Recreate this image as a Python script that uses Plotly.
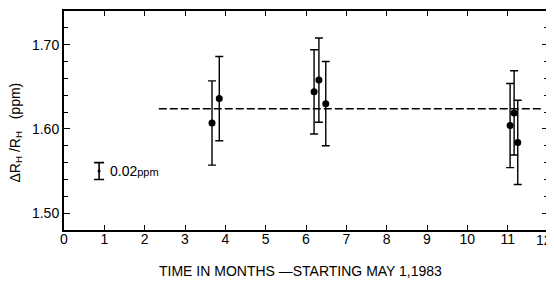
import plotly.graph_objects as go

# Data
months = [3.67, 3.85, 6.20, 6.32, 6.49, 11.06, 11.16, 11.25]
ratio = [1.607, 1.636, 1.644, 1.658, 1.630, 1.604, 1.619, 1.584]
uncert = [0.050, 0.050, 0.050, 0.050, 0.050, 0.050, 0.050, 0.050]

mean_value = 1.624
mean_span = [2.35, 11.85]

scale_x = [0.87]
scale_y = [1.550]
scale_half = [0.010]

x_ticks = list(range(0, 13))
x_tick_text = [str(v) for v in x_ticks[:-1]] + [""]
y_major = [1.50, 1.60, 1.70]
y_major_text = ["1.50", "1.60", "1.70"]

FONT = "Liberation Sans, Arial, sans-serif"

fig = go.Figure()

fig.add_trace(go.Scatter(
    x=mean_span, y=[mean_value, mean_value], mode="lines",
    line=dict(color="black", width=1.6, dash="8px,3px"),
    showlegend=False, hoverinfo="skip"))

fig.add_trace(go.Scatter(
    x=months, y=ratio, mode="markers",
    marker=dict(color="black", size=7),
    error_y=dict(type="data", array=uncert, visible=True,
                 color="black", thickness=1.4, width=4),
    showlegend=False))

fig.add_trace(go.Scatter(
    x=scale_x, y=scale_y, mode="markers",
    marker=dict(color="black", size=3),
    error_y=dict(type="data", array=scale_half, visible=True,
                 color="black", thickness=1.6, width=5),
    showlegend=False))

fig.add_annotation(
    x=1.08, y=1.550, xref="x", yref="y", xanchor="left", yanchor="middle",
    text="0.02<span style='font-size:11px'>ppm</span>", showarrow=False,
    font=dict(family=FONT, size=14, color="black"))

fig.add_annotation(
    x=0, y=0.5, xref="paper", yref="paper", xanchor="center", yanchor="middle",
    xshift=-49, yshift=-12,
    text="ΔR<sub>H</sub> /R<sub>H</sub>   (ppm)", textangle=-90,
    showarrow=False, font=dict(family=FONT, size=14, color="black"))

fig.add_annotation(
    x=0.5, y=0, xref="paper", yref="paper", xanchor="center", yanchor="middle",
    xshift=-6, yshift=-41, text="TIME IN MONTHS —STARTING MAY 1,1983",
    showarrow=False, font=dict(family=FONT, size=14, color="black"))

# last month label sits at the right edge of the page
fig.add_annotation(
    x=x_ticks[-1], y=0, xref="x", yref="paper", xanchor="right", yanchor="middle",
    xshift=6, yshift=-10, text=str(x_ticks[-1]), showarrow=False,
    font=dict(family=FONT, size=14, color="black"))

# the page body has an 8px default margin, so the figure is sized to fit
fig.update_layout(
    width=546, height=273,
    margin=dict(l=56, r=6, t=1, b=51),
    paper_bgcolor="white", plot_bgcolor="white",
    font=dict(family=FONT, size=14, color="black"),
    xaxis=dict(range=[0, 12], tickvals=x_ticks, ticktext=x_tick_text,
               ticks="inside", ticklen=5,
               tickwidth=1.4, tickcolor="black", showline=True, linecolor="black",
               linewidth=2, mirror="ticks", showgrid=False, zeroline=False,
               tickfont=dict(size=14), ticklabelstandoff=-5),
    yaxis=dict(range=[1.48, 1.74], tickvals=y_major, ticktext=y_major_text,
               ticks="inside", ticklen=6, tickwidth=1.4, tickcolor="black",
               showline=True, linecolor="black", linewidth=2, mirror="ticks",
               showgrid=False, zeroline=False, tickfont=dict(size=14),
               minor=dict(dtick=0.02, tick0=1.50, ticks="inside", ticklen=4,
                          tickcolor="black", tickwidth=1, showgrid=False)),
)

fig.write_html("out.html")
